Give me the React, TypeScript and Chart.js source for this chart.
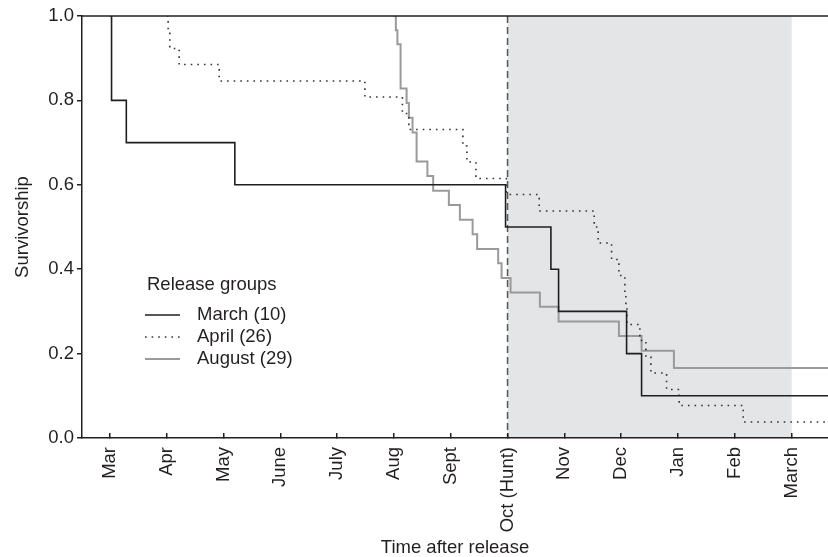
import { useEffect, useRef } from 'react';
import { Chart, registerables } from 'chart.js';

Chart.register(...registerables);

// ---- data ----
const monthLabels = ['Mar', 'Apr', 'May', 'June', 'July', 'Aug', 'Sept', 'Oct (Hunt)', 'Nov', 'Dec', 'Jan', 'Feb', 'March'];
const yTickValues = [0, 0.2, 0.4, 0.6, 0.8, 1.0];

// x = months since the March release (0 = Mar, 7 = Oct (Hunt), 12 = March)
const marchX = [0, 0.03, 0.29, 2.2, 6.965, 7.763, 7.898, 9.095, 9.359, 12.64];
const marchY = [1.0, 0.8, 0.7, 0.6, 0.5, 0.4, 0.3, 0.2, 0.1, 0.1];

const aprilX = [1.0, 1.026, 1.056, 1.22, 1.924, 4.489, 5.149, 5.263, 6.214, 6.284, 6.443, 6.979, 7.557, 8.525, 8.595, 8.831, 8.96, 9.065, 9.083, 9.101, 9.329, 9.435, 9.523, 9.799, 10.021, 11.148, 12.64];
const aprilY = [1.0, 0.962, 0.923, 0.885, 0.846, 0.808, 0.769, 0.731, 0.692, 0.654, 0.615, 0.577, 0.538, 0.5, 0.462, 0.423, 0.385, 0.346, 0.308, 0.269, 0.231, 0.192, 0.154, 0.115, 0.077, 0.038, 0.038];

const augustX = [4.99, 5.034, 5.061, 5.117, 5.223, 5.263, 5.328, 5.399, 5.589, 5.691, 5.967, 6.161, 6.385, 6.465, 6.835, 6.895, 7.053, 7.569, 7.898, 8.96, 9.359, 9.928, 12.64];
const augustY = [1.0, 0.966, 0.933, 0.828, 0.794, 0.759, 0.724, 0.655, 0.621, 0.586, 0.552, 0.517, 0.483, 0.448, 0.414, 0.379, 0.345, 0.311, 0.276, 0.242, 0.207, 0.166, 0.166];

const seriesLabels = ['March (10)', 'April (26)', 'August (29)'];
const legendTitle = 'Release groups';
const huntStart = 7;
const huntEnd = 12;
const xMin = -0.49;
const xMax = 12.64;

const FONT_FAMILY = '"Liberation Sans", Arial, Helvetica, sans-serif';
const TEXT_COLOR = '#231f20';

const toPoints = (xs: number[], ys: number[]) => xs.map((x, i) => ({ x, y: ys[i] }));

const huntShadePlugin = {
  id: 'huntShade',
  beforeDraw(chart: any) {
    const { ctx, chartArea, scales } = chart;
    const xs = scales.x;
    const x0 = xs.getPixelForValue(huntStart);
    const x1 = xs.getPixelForValue(huntEnd);
    ctx.save();
    ctx.fillStyle = '#e4e5e7';
    ctx.fillRect(x0, chartArea.top, x1 - x0, chartArea.bottom - chartArea.top);
    ctx.strokeStyle = '#555555';
    ctx.lineWidth = 1.5;
    ctx.setLineDash([7, 4]);
    ctx.beginPath();
    ctx.moveTo(x0, chartArea.top);
    ctx.lineTo(x0, chartArea.bottom);
    ctx.stroke();
    ctx.restore();
  },
  afterDatasetsDraw(chart: any) {
    const { ctx, chartArea } = chart;
    ctx.save();
    ctx.strokeStyle = TEXT_COLOR;
    ctx.lineWidth = 1.5;
    ctx.beginPath();
    ctx.moveTo(chartArea.left, chartArea.top);
    ctx.lineTo(chartArea.right, chartArea.top);
    ctx.stroke();
    ctx.restore();
  },
};

const innerLegendPlugin = {
  id: 'innerLegend',
  afterDraw(chart: any) {
    const { ctx } = chart;
    ctx.save();
    ctx.font = `18.5px ${FONT_FAMILY}`;
    ctx.fillStyle = TEXT_COLOR;
    ctx.textBaseline = 'middle';
    ctx.textAlign = 'left';
    ctx.fillText(legendTitle, 147, 285);
    chart.data.datasets.forEach((ds: any, i: number) => {
      const y = 315 + i * 22;
      ctx.strokeStyle = ds.borderColor;
      ctx.lineWidth = ds.borderWidth;
      ctx.setLineDash(ds.borderDash || []);
      ctx.beginPath();
      ctx.moveTo(145, y);
      ctx.lineTo(180, y);
      ctx.stroke();
      ctx.setLineDash([]);
      ctx.fillText(ds.label, 197, y);
    });
    ctx.restore();
  },
};

export default function App() {
  const canvasRef = useRef<HTMLCanvasElement | null>(null);

  useEffect(() => {
    document.body.style.margin = '0';
    const canvas = canvasRef.current;
    if (!canvas) return;
    const font = { family: FONT_FAMILY, size: 18.5 };
    const chart = new Chart(canvas, {
      type: 'line',
      data: {
        datasets: [
          {
            label: seriesLabels[0],
            data: toPoints(marchX, marchY),
            borderColor: '#1f1f1f',
            borderWidth: 1.6,
            stepped: 'before',
            pointRadius: 0,
            fill: false,
          },
          {
            label: seriesLabels[1],
            data: toPoints(aprilX, aprilY),
            borderColor: '#333333',
            borderWidth: 1.6,
            borderDash: [1.6, 5],
            stepped: 'before',
            pointRadius: 0,
            fill: false,
          },
          {
            label: seriesLabels[2],
            data: toPoints(augustX, augustY),
            borderColor: '#9a9a9a',
            borderWidth: 2,
            stepped: 'before',
            pointRadius: 0,
            fill: false,
          },
        ],
      },
      options: {
        responsive: false,
        animation: false,
        devicePixelRatio: 1,
        layout: { padding: { top: 16, right: 0, left: 0, bottom: 0 } },
        plugins: {
          legend: { display: false },
          tooltip: { enabled: false },
        },
        scales: {
          x: {
            type: 'linear',
            min: xMin,
            max: xMax,
            afterBuildTicks: (s: any) => {
              s.ticks = monthLabels.map((_, i) => ({ value: i }));
            },
            ticks: {
              autoSkip: false,
              minRotation: 90,
              maxRotation: 90,
              padding: 14,
              font,
              color: TEXT_COLOR,
              callback: (_v: any, i: number) => monthLabels[i],
            },
            grid: {
              display: true,
              drawOnChartArea: false,
              drawTicks: true,
              tickLength: -5,
              color: TEXT_COLOR,
              lineWidth: 1.5,
            },
            border: { display: true, color: TEXT_COLOR, width: 1.5 },
            title: {
              display: true,
              text: 'Time after release',
              font: { family: FONT_FAMILY, size: 18.5, lineHeight: 1.0 },
              color: TEXT_COLOR,
              padding: { top: 0, bottom: 0 },
            },
            afterFit: (s: any) => {
              s.height = 119;
            },
          },
          y: {
            min: 0,
            max: 1,
            afterBuildTicks: (s: any) => {
              s.ticks = yTickValues.map((v) => ({ value: v }));
            },
            ticks: {
              padding: 3,
              font,
              color: TEXT_COLOR,
              callback: (v: any) => Number(v).toFixed(1),
            },
            grid: {
              display: true,
              drawOnChartArea: false,
              drawTicks: true,
              tickLength: 5,
              color: TEXT_COLOR,
              lineWidth: 1.5,
            },
            border: { display: true, color: TEXT_COLOR, width: 1.5 },
            title: {
              display: true,
              text: 'Survivorship',
              font: { family: FONT_FAMILY, size: 18.5, lineHeight: 1.2 },
              color: TEXT_COLOR,
              padding: { top: 12, bottom: 0 },
            },
            afterFit: (s: any) => {
              s.width = 82;
            },
          },
        },
      },
      plugins: [huntShadePlugin, innerLegendPlugin],
    } as any);
    return () => chart.destroy();
  }, []);

  return (
    <div style={{ width: 828, height: 557 }}>
      <canvas ref={canvasRef} width={828} height={557} style={{ display: 'block' }} />
    </div>
  );
}
